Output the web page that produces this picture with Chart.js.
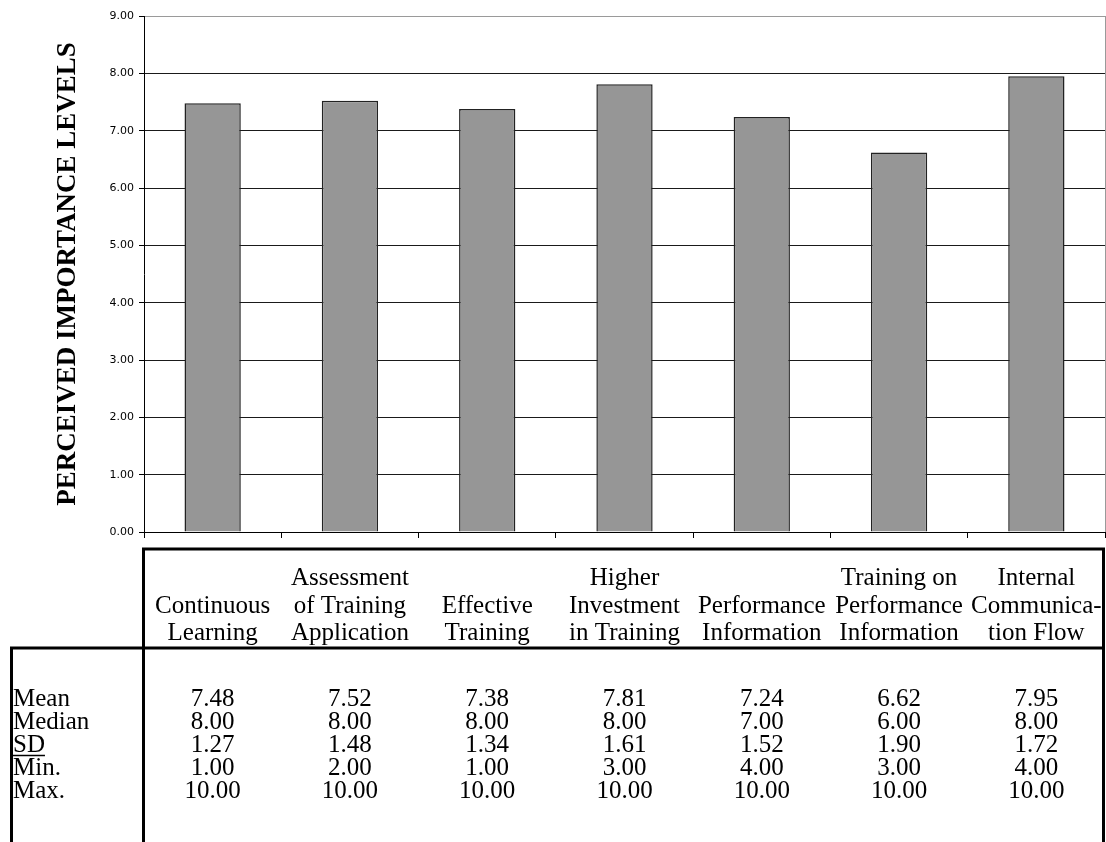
<!DOCTYPE html>
<html>
<head>
<meta charset="utf-8">
<script src="https://cdn.jsdelivr.net/npm/chart.js@4/dist/chart.umd.min.js"></script>
<style>
  html, body { margin: 0; padding: 0; background: #fff; }
  #wrap { width: 1106px; height: 842px; }
</style>
</head>
<body>
<div id="wrap"><canvas id="c" width="1106" height="842"></canvas></div>
<script>
// ---- Data ----
const categories = [
  ["Continuous", "Learning"],
  ["Assessment", "of Training", "Application"],
  ["Effective", "Training"],
  ["Higher", "Investment", "in Training"],
  ["Performance", "Information"],
  ["Training on", "Performance", "Information"],
  ["Internal", "Communica-", "tion Flow"]
];
const meanValues   = [7.48, 7.52, 7.38, 7.81, 7.24, 6.62, 7.95];
const medianValues = [8.00, 8.00, 8.00, 8.00, 7.00, 6.00, 8.00];
const sdValues     = [1.27, 1.48, 1.34, 1.61, 1.52, 1.90, 1.72];
const minValues    = [1.00, 2.00, 1.00, 3.00, 4.00, 3.00, 4.00];
const maxValues    = [10.00, 10.00, 10.00, 10.00, 10.00, 10.00, 10.00];
const rowLabels    = ["Mean", "Median", "SD", "Min.", "Max."];
const yAxisTitle   = "PERCEIVED IMPORTANCE LEVELS";
const yMin = 0, yMax = 9, yStep = 1;

const SERIF = '"Liberation Serif", "Times New Roman", serif';
const SANS = '"DejaVu Sans", "Liberation Sans", Arial, sans-serif';

const tablePlugin = {
  id: 'statsTable',
  afterDraw(chart) {
    const ctx = chart.ctx;
    const xs = chart.scales.x;
    const area = chart.chartArea;
    ctx.save();
    // right border of plot area (gray)
    ctx.strokeStyle = '#9a9a9a';
    ctx.lineWidth = 1;
    ctx.beginPath();
    ctx.moveTo(area.right + 0.5, area.top);
    ctx.lineTo(area.right + 0.5, area.bottom);
    ctx.stroke();

    // table frame
    const tLeft = area.left - 0.5;
    const tRight = area.right - 1.5;
    const tTop = 549;
    const hdrBottom = 648;
    const outerLeft = 11.5;
    const H = chart.height;
    ctx.strokeStyle = '#000';
    ctx.lineWidth = 3;
    ctx.lineCap = 'butt';
    ctx.beginPath();
    ctx.moveTo(tLeft - 1.5, tTop); ctx.lineTo(tRight + 1.5, tTop);
    ctx.moveTo(tLeft, tTop - 1.5); ctx.lineTo(tLeft, H);
    ctx.moveTo(tRight, tTop - 1.5); ctx.lineTo(tRight, H);
    ctx.moveTo(outerLeft - 1.5, hdrBottom); ctx.lineTo(tRight + 1.5, hdrBottom);
    ctx.moveTo(outerLeft, hdrBottom - 1.5); ctx.lineTo(outerLeft, H);
    ctx.stroke();

    // header text
    ctx.fillStyle = '#000';
    ctx.font = '25px ' + SERIF;
    ctx.textAlign = 'center';
    ctx.textBaseline = 'alphabetic';
    const hdrBaselines = [585, 612.5, 640];
    categories.forEach((lines, i) => {
      const cx = xs.getPixelForValue(i);
      const start = 3 - lines.length;
      lines.forEach((ln, j) => ctx.fillText(ln, cx, hdrBaselines[start + j]));
    });

    // rows
    const rows = [meanValues, medianValues, sdValues, minValues, maxValues];
    const rowBaselines = [706, 729, 752, 775, 798];
    rows.forEach((vals, r) => {
      ctx.textAlign = 'left';
      ctx.fillText(rowLabels[r], 13, rowBaselines[r]);
      if (rowLabels[r] === 'SD') {
        const w = ctx.measureText('SD').width;
        ctx.lineWidth = 1.5;
        ctx.beginPath();
        ctx.moveTo(13, rowBaselines[r] + 3.5);
        ctx.lineTo(13 + w, rowBaselines[r] + 3.5);
        ctx.stroke();
      }
      ctx.textAlign = 'center';
      vals.forEach((v, i) => {
        ctx.fillText(v.toFixed(2), xs.getPixelForValue(i), rowBaselines[r]);
      });
    });
    ctx.restore();
  }
};

new Chart(document.getElementById('c'), {
  type: 'bar',
  data: {
    labels: categories,
    datasets: [{
      data: meanValues,
      backgroundColor: '#969696',
      borderColor: '#222222',
      borderWidth: 1.5,
      barPercentage: 0.41,
      categoryPercentage: 1.0
    }]
  },
  options: {
    responsive: false,
    animation: false,
    events: [],
    layout: { padding: { top: 16, right: 1, bottom: 310, left: 0 } },
    plugins: { legend: { display: false }, tooltip: { enabled: false } },
    scales: {
      x: {
        offset: true,
        ticks: { display: false },
        grid: { display: true, drawOnChartArea: false, drawTicks: true, tickLength: 6, color: '#000', lineWidth: 1 },
        border: { display: true, color: '#000', width: 1 },
        afterFit(scale) { scale.height = 0; }
      },
      y: {
        min: yMin, max: yMax,
        ticks: {
          stepSize: yStep,
          color: '#000',
          font: { family: SANS, size: 11 },
          padding: 5,
          callback: (v) => Number(v).toFixed(2)
        },
        grid: {
          color: (c) => (c.tick && c.tick.value === yMax) ? '#9a9a9a' : '#1a1a1a',
          tickColor: '#000',
          tickLength: 5,
          lineWidth: 1
        },
        border: { display: true, color: '#000', width: 1 },
        title: {
          display: true,
          text: yAxisTitle,
          color: '#000',
          font: { family: SERIF, size: 27, weight: 'bold' },
          padding: { top: 52, bottom: 0 }
        },
        afterFit(scale) { scale.width = 144; }
      }
    }
  },
  plugins: [tablePlugin]
});
</script>
</body>
</html>
